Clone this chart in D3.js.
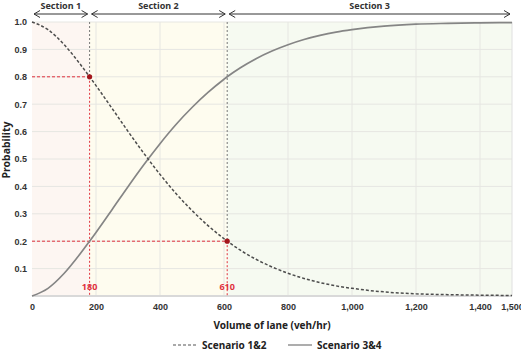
<!DOCTYPE html>
<meta charset="utf-8">
<head>
<style>
  body { margin: 0; background: #fff; }
  svg { display: block; font-family: "Noto Sans", "Open Sans", sans-serif; }
  .tick text { font-size: 9px; font-weight: bold; fill: #333; }
  .tick line, .domain { display: none; }
</style>
</head>
<body>
<div id="chart"></div>
<script src="https://cdn.jsdelivr.net/npm/d3@7/dist/d3.min.js"></script>
<script>
// volume of lane (veh/hr) sample points
var volume = [0, 50, 100, 150, 180, 200, 250, 300, 350, 400, 450, 500, 550, 600, 610, 650, 700, 750, 800, 850, 900, 950, 1000, 1100, 1200, 1300, 1400, 1500];
// probability
var scen12 = [1.0, 0.972, 0.918, 0.847, 0.800, 0.768, 0.685, 0.601, 0.520, 0.444, 0.374, 0.312, 0.257, 0.209, 0.200, 0.168, 0.134, 0.106, 0.083, 0.064, 0.049, 0.037, 0.028, 0.015, 0.008, 0.005, 0.003, 0.002];
var scen34 = [0.0, 0.028, 0.082, 0.153, 0.200, 0.232, 0.315, 0.399, 0.480, 0.556, 0.626, 0.688, 0.743, 0.791, 0.800, 0.832, 0.866, 0.894, 0.917, 0.936, 0.951, 0.963, 0.972, 0.985, 0.992, 0.995, 0.997, 0.998];

var xTicks = [0, 200, 400, 600, 800, 1000, 1200, 1400, 1500];
var yTicks = [0.1, 0.2, 0.3, 0.4, 0.5, 0.6, 0.7, 0.8, 0.9, 1.0];

var sectionNames = ["Section 1", "Section 2", "Section 3"];
var sectionBounds = [0, 180, 610, 1500];
var sectionFill = ["#fdf6f2", "#fefcef", "#f6faf1"];

var marks = [{x: 180, y: 0.8, label: "180"}, {x: 610, y: 0.2, label: "610"}];

var W = 521, H = 353;
var margin = {top: 22, right: 9, bottom: 57, left: 32};

var svg = d3.select("#chart").append("svg")
    .attr("width", W)
    .attr("height", H);

var x = d3.scaleLinear().domain([0, 1500]).range([margin.left, W - margin.right]);
var y = d3.scaleLinear().domain([0, 1]).range([H - margin.bottom, margin.top]);

// section shading
svg.append("g").selectAll("rect")
  .data(sectionNames)
  .enter().append("rect")
    .attr("x", function(d, i) { return x(sectionBounds[i]); })
    .attr("width", function(d, i) { return x(sectionBounds[i + 1]) - x(sectionBounds[i]); })
    .attr("y", y(1))
    .attr("height", y(0) - y(1))
    .style("fill", function(d, i) { return sectionFill[i]; });

// grid
svg.append("g").selectAll("line")
  .data(yTicks)
  .enter().append("line")
    .attr("x1", x(0)).attr("x2", x(1500))
    .attr("y1", function(d) { return y(d); })
    .attr("y2", function(d) { return y(d); })
    .style("stroke", "#e6e6e2").style("stroke-width", 1);
svg.append("g").selectAll("line")
  .data(xTicks.slice(1, -1))
  .enter().append("line")
    .attr("x1", function(d) { return x(d); })
    .attr("x2", function(d) { return x(d); })
    .attr("y1", y(0)).attr("y2", y(1))
    .style("stroke", "#e6e6e2").style("stroke-width", 1);

// bottom / right frame
svg.append("line")
  .attr("x1", x(0)).attr("x2", x(1500)).attr("y1", y(0)).attr("y2", y(0))
  .style("stroke", "#d9d9d9").style("stroke-width", 2);
svg.append("line")
  .attr("x1", x(1500)).attr("x2", x(1500)).attr("y1", y(0)).attr("y2", y(1))
  .style("stroke", "#e0e0e0").style("stroke-width", 1);

// axes
svg.append("g")
  .attr("transform", "translate(0," + (y(0) + 1) + ")")
  .call(d3.axisBottom(x).tickValues(xTicks).tickSize(0).tickPadding(7)
    .tickFormat(function(d) { return d3.format(",")(d); }));
svg.append("g")
  .attr("transform", "translate(" + (x(0) - 3) + ",0)")
  .call(d3.axisLeft(y).tickValues(yTicks).tickSize(0).tickPadding(2)
    .tickFormat(d3.format(".1f")));

// reference lines
marks.forEach(function(m) {
  svg.append("line")
    .attr("x1", x(m.x)).attr("x2", x(m.x)).attr("y1", y(1)).attr("y2", y(m.y))
    .style("stroke", "#777").style("stroke-width", 1).style("stroke-dasharray", "2,2");
  svg.append("line")
    .attr("x1", x(m.x)).attr("x2", x(m.x)).attr("y1", y(m.y)).attr("y2", y(0))
    .style("stroke", "#e0303c").style("stroke-width", 1).style("stroke-dasharray", "2,2");
  svg.append("line")
    .attr("x1", x(0)).attr("x2", x(m.x)).attr("y1", y(m.y)).attr("y2", y(m.y))
    .style("stroke", "#e0303c").style("stroke-width", 1).style("stroke-dasharray", "3,2");
  svg.append("text")
    .attr("x", x(m.x)).attr("y", y(0) - 6)
    .attr("text-anchor", "middle")
    .style("font-size", "9px").style("font-weight", "bold")
    .style("fill", "#e0303c")
    .text(m.label);
});

// curves
var pts12 = volume.map(function(v, i) { return [v, scen12[i]]; });
var pts34 = volume.map(function(v, i) { return [v, scen34[i]]; });
var line = d3.line()
  .x(function(d) { return x(d[0]); })
  .y(function(d) { return y(d[1]); })
  .curve(d3.curveMonotoneX);

svg.append("path").datum(pts34)
  .attr("d", line)
  .style("fill", "none").style("stroke", "#858585").style("stroke-width", 1.7);
svg.append("path").datum(pts12)
  .attr("d", line)
  .style("fill", "none").style("stroke", "#4d4d4d").style("stroke-width", 1.5)
  .style("stroke-dasharray", "3,2");

// points
svg.append("g").selectAll("circle")
  .data(marks)
  .enter().append("circle")
    .attr("cx", function(d) { return x(d.x); })
    .attr("cy", function(d) { return y(d.y); })
    .attr("r", 2.6)
    .style("fill", "#a3161c");

// section arrows
var arrowY = 14;
sectionNames.forEach(function(name, i) {
  var x0 = x(sectionBounds[i]) + 2, x1 = x(sectionBounds[i + 1]) - 2;
  svg.append("line")
    .attr("x1", x0).attr("x2", x1).attr("y1", arrowY).attr("y2", arrowY)
    .style("stroke", "#333").style("stroke-width", 1);
  svg.append("path")
    .attr("d", "M" + (x0 + 6) + "," + (arrowY - 3.5) + "L" + x0 + "," + arrowY + "L" + (x0 + 6) + "," + (arrowY + 3.5))
    .style("fill", "none").style("stroke", "#333").style("stroke-width", 1);
  svg.append("path")
    .attr("d", "M" + (x1 - 6) + "," + (arrowY - 3.5) + "L" + x1 + "," + arrowY + "L" + (x1 - 6) + "," + (arrowY + 3.5))
    .style("fill", "none").style("stroke", "#333").style("stroke-width", 1);
  svg.append("text")
    .attr("x", (x0 + x1) / 2).attr("y", 9)
    .attr("text-anchor", "middle")
    .style("font-size", "9px").style("font-weight", "bold").style("fill", "#333")
    .text(name);
});

// axis titles
svg.append("text")
  .attr("x", 272).attr("y", 328.5)
  .attr("text-anchor", "middle")
  .style("font-size", "10px").style("font-weight", "bold").style("fill", "#222")
  .text("Volume of lane (veh/hr)");
svg.append("text")
  .attr("transform", "translate(9.5,150) rotate(-90)")
  .attr("text-anchor", "middle")
  .style("font-size", "10.5px").style("font-weight", "bold").style("fill", "#222")
  .text("Probability");

// legend
var legend = [{name: "Scenario 1&2", dash: "3,2", color: "#555", x: 173}, {name: "Scenario 3&4", dash: null, color: "#777", x: 288}];
legend.forEach(function(l) {
  svg.append("line")
    .attr("x1", l.x).attr("x2", l.x + 24).attr("y1", 345).attr("y2", 345)
    .style("stroke", l.color).style("stroke-width", 1.2)
    .style("stroke-dasharray", l.dash);
  svg.append("text")
    .attr("x", l.x + 29).attr("y", 348.5)
    .style("font-size", "10px").style("font-weight", "bold").style("fill", "#222")
    .text(l.name);
});
</script>
</body>
